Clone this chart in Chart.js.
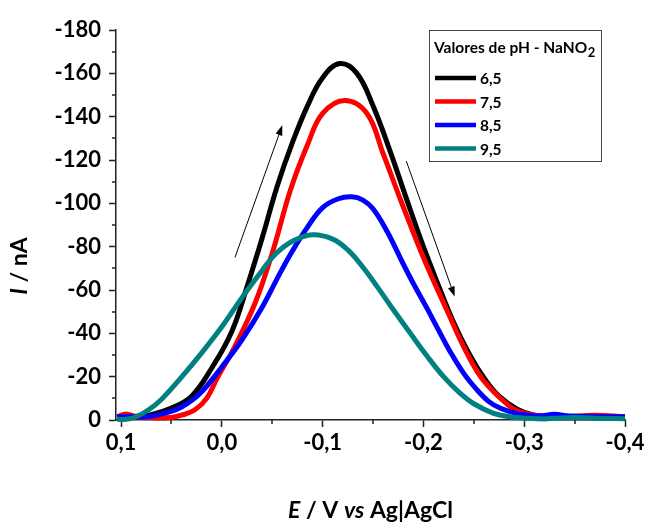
<!DOCTYPE html>
<html>
<head>
<meta charset="utf-8">
<script src="https://cdn.jsdelivr.net/npm/chart.js@4.4.1/dist/chart.umd.min.js"></script>
<style>
  html, body { margin: 0; padding: 0; background: #fff; }
  #wrap { width: 649px; height: 525px; }
</style>
</head>
<body>
<div id="wrap"><canvas id="chart" width="649" height="525"></canvas></div>
<script>
// Potential (V vs Ag|AgCl) and current (nA)
const e65 = [0.104, 0.09, 0.07, 0.05, 0.03, 0.01, -0.01, -0.026, -0.04, -0.055, -0.07, -0.085, -0.1, -0.117, -0.134, -0.15, -0.167, -0.184, -0.2, -0.215, -0.23, -0.246, -0.26, -0.275, -0.293, -0.31, -0.33, -0.4];
const i65 = [-1.2, -1.5, -2.5, -5.5, -11, -24, -41, -63, -84, -108, -128, -145, -158, -164.5, -160, -145, -124, -101, -80, -62, -45, -30, -19.5, -11, -5, -2.2, -1.2, -1];

const e75 = [0.104, 0.095, 0.085, 0.07, 0.05, 0.04, 0.027, 0.015, 0.005, -0.013, -0.033, -0.05, -0.068, -0.085, -0.1, -0.122, -0.144, -0.16, -0.177, -0.2, -0.223, -0.243, -0.26, -0.285, -0.296, -0.316, -0.34, -0.37, -0.4];
const i75 = [-1.5, -2.8, -1.5, -1, -1.2, -2.2, -4.6, -10, -19, -34, -54, -77, -106, -127, -141.5, -147.5, -141.5, -123, -102, -75, -51, -31, -18, -6.5, -3.7, -1.8, -1.5, -2.2, -1.5];

const e85 = [0.104, 0.09, 0.073, 0.06, 0.046, 0.033, 0.02, 0.0, -0.02, -0.04, -0.058, -0.07, -0.085, -0.1, -0.115, -0.129, -0.14, -0.15, -0.164, -0.18, -0.19, -0.2036, -0.215, -0.226, -0.24, -0.253, -0.265, -0.276, -0.29, -0.303, -0.315, -0.33, -0.345, -0.4];
const i85 = [-1.5, -1.5, -1.5, -2.8, -4.6, -8, -13, -24.5, -37, -52, -68, -78, -89, -98, -102, -103, -101.5, -97.5, -87, -72, -63, -51.5, -41.5, -32, -21.5, -14, -8.5, -5.5, -3.3, -2.3, -1.8, -2.6, -1.8, -1.5];

const e95 = [0.104, 0.095, 0.085, 0.073, 0.06, 0.04, 0.02, 0.0, -0.02, -0.04, -0.053, -0.07, -0.09, -0.11, -0.125, -0.14, -0.155, -0.17, -0.187, -0.2036, -0.22, -0.236, -0.25, -0.269, -0.285, -0.303, -0.32, -0.33, -0.35, -0.37, -0.4];
const i95 = [-0.3, -0.3, -1.5, -4.6, -9.5, -19.8, -31, -43, -56.5, -69, -76.5, -82.5, -85.5, -83.5, -78.5, -70.5, -61, -51, -40, -29.5, -20, -12.5, -7.5, -3.2, -1.5, -0.8, -0.5, -0.8, -1.2, -0.8, -0.6];

const phLabels = ['6,5', '7,5', '8,5', '9,5'];

const xTicks = [0.1, 0.0, -0.1, -0.2, -0.3, -0.4];
const xMinorTicks = [0.05, -0.05, -0.15, -0.25, -0.35];
const yTicks = [0, -20, -40, -60, -80, -100, -120, -140, -160, -180];
const yMinorTicks = [-10, -30, -50, -70, -90, -110, -130, -150, -170];

// arrows drawn as [E start, I start, E tip, I tip]
const sweepArrows = [
  [-0.013, -75, -0.060, -136],
  [-0.183, -119.5, -0.231, -57]
];

// styles
const lineColors = ['#000000', '#ff0000', '#0000ff', '#008080'];
const axisColor = '#222';
const fontFamily = 'Lato, "Open Sans", sans-serif';

Chart.defaults.font.family = fontFamily;
Chart.defaults.color = '#000';

function toPoints(es, is) {
  return es.map((e, k) => ({ x: e, y: is[k] }));
}

const seriesE = [e65, e75, e85, e95];
const seriesI = [i65, i75, i85, i95];

const datasets = phLabels.map((label, k) => ({
  label: label,
  data: toPoints(seriesE[k], seriesI[k]),
  borderColor: lineColors[k],
  backgroundColor: lineColors[k],
  borderWidth: 5,
  pointRadius: 0,
  tension: 0.4,
  clip: false,
  fill: false
}));
// draw 6,5 on top like the original
datasets.reverse();

// Mixed italic / upright text, centred on x
function drawMixed(ctx, parts, x, y, size) {
  let total = 0;
  parts.forEach(p => {
    ctx.font = (p.italic ? 'italic ' : '') + 'bold ' + size + 'px ' + fontFamily;
    p.w = ctx.measureText(p.text).width;
    total += p.w;
  });
  let cx = x - total / 2;
  ctx.textAlign = 'left';
  parts.forEach(p => {
    ctx.font = (p.italic ? 'italic ' : '') + 'bold ' + size + 'px ' + fontFamily;
    ctx.fillText(p.text, cx, y);
    cx += p.w;
  });
}

const decorPlugin = {
  id: 'decor',
  afterDraw(chart) {
    const ctx = chart.ctx;
    const xs = chart.scales.x;
    const ys = chart.scales.y;
    const area = chart.chartArea;
    ctx.save();

    // minor ticks
    ctx.strokeStyle = axisColor;
    ctx.lineWidth = 1.5;
    ctx.beginPath();
    xMinorTicks.forEach(v => {
      const px = Math.round(xs.getPixelForValue(v));
      ctx.moveTo(px, area.bottom);
      ctx.lineTo(px, area.bottom + 4);
    });
    yMinorTicks.forEach(v => {
      const py = Math.round(ys.getPixelForValue(v));
      ctx.moveTo(area.left, py);
      ctx.lineTo(area.left - 4, py);
    });
    ctx.stroke();

    // sweep arrows
    ctx.strokeStyle = '#000';
    ctx.fillStyle = '#000';
    ctx.lineWidth = 1;
    sweepArrows.forEach(a => {
      const x0 = xs.getPixelForValue(a[0]), y0 = ys.getPixelForValue(a[1]);
      const x1 = xs.getPixelForValue(a[2]), y1 = ys.getPixelForValue(a[3]);
      const ang = Math.atan2(y1 - y0, x1 - x0);
      const len = 10, half = 3.5;
      const bx = x1 - len * Math.cos(ang), by = y1 - len * Math.sin(ang);
      ctx.beginPath();
      ctx.moveTo(x0, y0);
      ctx.lineTo(bx, by);
      ctx.stroke();
      ctx.beginPath();
      ctx.moveTo(x1, y1);
      ctx.lineTo(bx + half * Math.sin(ang), by - half * Math.cos(ang));
      ctx.lineTo(bx - half * Math.sin(ang), by + half * Math.cos(ang));
      ctx.closePath();
      ctx.fill();
    });

    // axis titles
    ctx.fillStyle = '#000';
    ctx.textBaseline = 'alphabetic';
    drawMixed(ctx, [
      { text: 'E', italic: true },
      { text: ' / V ', italic: false },
      { text: 'vs', italic: true },
      { text: ' Ag|AgCl', italic: false }
    ], (area.left + area.right) / 2, 518, 23);

    ctx.save();
    ctx.translate(27, 266);
    ctx.rotate(-Math.PI / 2);
    drawMixed(ctx, [
      { text: 'I', italic: true },
      { text: ' / nA', italic: false }
    ], 0, 0, 23);
    ctx.restore();

    // legend box
    const bx = 429.5, by = 30.5, bw = 172, bh = 131;
    ctx.fillStyle = '#fff';
    ctx.fillRect(bx, by, bw, bh);
    ctx.strokeStyle = '#444';
    ctx.lineWidth = 1;
    ctx.strokeRect(bx, by, bw, bh);

    ctx.fillStyle = '#000';
    ctx.textAlign = 'left';
    ctx.font = 'bold 15.5px ' + fontFamily;
    const title = 'Valores de pH - NaNO';
    ctx.fillText(title, 434, 53);
    const tw = ctx.measureText(title).width;
    ctx.font = 'bold 13px ' + fontFamily;
    ctx.fillText('2', 434 + tw + 0.5, 57);

    ctx.font = 'bold 15.5px ' + fontFamily;
    ctx.textBaseline = 'middle';
    phLabels.forEach((label, k) => {
      const ry = 78 + k * 23.5;
      ctx.strokeStyle = lineColors[k];
      ctx.lineWidth = 4.5;
      ctx.beginPath();
      ctx.moveTo(435, ry);
      ctx.lineTo(476, ry);
      ctx.stroke();
      ctx.fillText(label, 480, ry + 1);
    });

    ctx.restore();
  }
};

new Chart(document.getElementById('chart'), {
  type: 'line',
  data: { datasets: datasets },
  options: {
    responsive: false,
    animation: false,
    devicePixelRatio: 1,
    layout: { padding: { top: 30, right: 24, left: 0, bottom: 0 } },
    plugins: {
      legend: { display: false },
      tooltip: { enabled: false }
    },
    scales: {
      x: {
        type: 'linear',
        reverse: true,
        min: -0.4,
        max: 0.105,
        afterBuildTicks: s => { s.ticks = xTicks.map(v => ({ value: v })); },
        afterFit: s => { s.height = 105; },
        ticks: {
          callback: v => v.toFixed(1).replace('.', ','),
          font: { size: 22, weight: 'bold' },
          color: '#000',
          padding: 3,
          maxRotation: 0,
          autoSkip: false
        },
        grid: { drawOnChartArea: false, drawTicks: true, tickLength: 7, tickColor: axisColor, tickWidth: 1.5 },
        border: { display: true, color: axisColor, width: 1.5 }
      },
      y: {
        type: 'linear',
        reverse: true,
        min: -180,
        max: 0,
        afterBuildTicks: s => { s.ticks = yTicks.map(v => ({ value: v })); },
        afterFit: s => { s.width = 116; },
        ticks: {
          callback: v => String(v),
          font: { size: 22, weight: 'bold' },
          color: '#000',
          padding: 8,
          autoSkip: false
        },
        grid: { drawOnChartArea: false, drawTicks: true, tickLength: 7, tickColor: axisColor, tickWidth: 1.5 },
        border: { display: true, color: axisColor, width: 1.5 }
      }
    }
  },
  plugins: [decorPlugin]
});
</script>
</body>
</html>
